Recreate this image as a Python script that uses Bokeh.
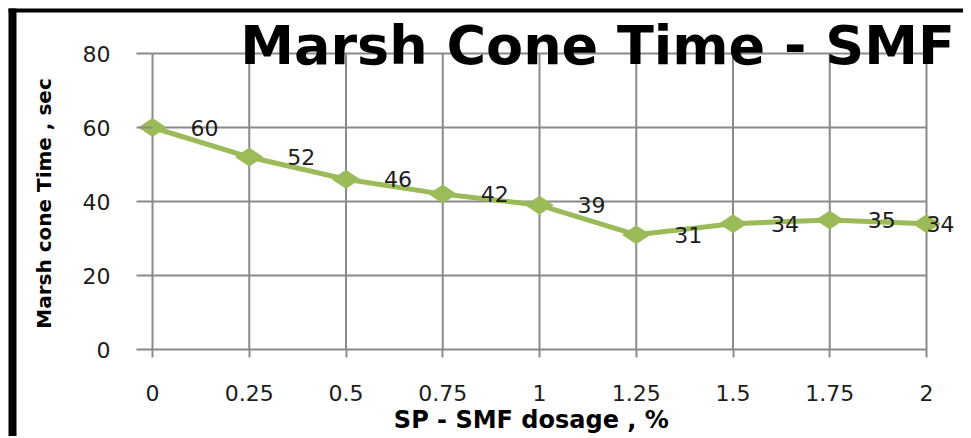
import numpy as np
from bokeh.plotting import figure
from bokeh.models import (ColumnDataSource, LabelSet, Label, FixedTicker, Range1d,
                          BoxAnnotation, Node)
from bokeh.core.properties import value
from bokeh.embed import file_html
from bokeh.resources import INLINE

# ---- data ----
dosage = [0, 0.25, 0.5, 0.75, 1, 1.25, 1.5, 1.75, 2]
marsh_time = [60, 52, 46, 42, 39, 31, 34, 35, 34]
x_tick_labels = ["0", "0.25", "0.5", "0.75", "1", "1.25", "1.5", "1.75", "2"]
y_ticks = [0, 20, 40, 60, 80]
title_text = "Marsh Cone Time - SMF"
x_label = "SP - SMF  dosage , %"
y_label = "Marsh cone Time , sec"

# ---- styles / layout ----
label_offsets = [38, 38, 38, 38, 38, 38, 38, 38, 0]
GREEN = "#9BBB59"
GRID = "#8a8a8a"
TXT = "#1c1c1c"
FONT = "DejaVu Sans"

W, H = 963, 436
PX0, PX1 = 152, 926   # screen x of first / last category
PY0, PY1 = 349, 53    # screen y of lowest / highest y tick

xmin, xmax = min(dosage), max(dosage)
ymin, ymax = min(y_ticks), max(y_ticks)
sx = (PX1 - PX0) / (xmax - xmin)
sy = (PY0 - PY1) / (ymax - ymin)


def dx(px):
    return xmin + (px - PX0) / sx


def dy(py):
    return ymin + (PY0 - py) / sy


p = figure(width=W, height=H, output_backend="svg", toolbar_location=None,
           x_range=Range1d(dx(0), dx(W)), y_range=Range1d(dy(H), dy(0)),
           min_border=0)
p.outline_line_color = None
p.background_fill_color = "white"
p.border_fill_color = "white"
p.xgrid.visible = False
p.ygrid.visible = False

n = len(dosage)
m = len(y_ticks)
# grid lines (from tick arrays)
p.segment(x0=dosage, y0=[ymin] * n, x1=dosage, y1=[ymax] * n,
          line_color=GRID, line_width=2)
p.segment(x0=[xmin] * m, y0=y_ticks, x1=[xmax] * m, y1=y_ticks,
          line_color=GRID, line_width=2)

src = ColumnDataSource(dict(x=dosage, y=marsh_time,
                            lab=[str(v) for v in marsh_time],
                            off=label_offsets))
p.line("x", "y", source=src, line_color=GREEN, line_width=5)
p.scatter("x", "y", source=src, marker="diamond", size=27, angle=np.pi / 2,
          fill_color=GREEN, line_color=GREEN)

labels = LabelSet(x="x", y="y", text="lab", x_offset="off", source=src,
                  text_font=value(FONT), text_font_size="22px", text_color=TXT,
                  text_align="left", text_baseline="middle")
p.add_layout(labels)

# y axis (fixed at first category)
yax = p.yaxis[0]
yax.fixed_location = xmin
yax.ticker = FixedTicker(ticks=y_ticks)
yax.axis_line_color = None
yax.major_tick_line_color = GRID
yax.major_tick_line_width = 2
yax.major_tick_out = 16
yax.major_tick_in = 0
yax.minor_tick_line_color = None
yax.major_label_standoff = 26
yax.major_label_text_font = FONT
yax.major_label_text_font_size = "22px"
yax.major_label_text_color = TXT

# x axis (fixed at y = 0)
xax = p.xaxis[0]
xax.fixed_location = ymin
xax.ticker = FixedTicker(ticks=dosage)
xax.major_label_overrides = {d: t for d, t in zip(dosage, x_tick_labels)}
xax.axis_line_color = None
xax.major_tick_line_color = GRID
xax.major_tick_line_width = 2
xax.major_tick_out = 8
xax.major_tick_in = 0
xax.minor_tick_line_color = None
xax.major_label_standoff = 27
xax.major_label_text_font = FONT
xax.major_label_text_font_size = "22px"
xax.major_label_text_color = TXT

# axis titles
p.add_layout(Label(x=dx(535), y=dy(419), text=x_label, text_font=FONT,
                   text_font_style="bold", text_font_size="24px",
                   text_color="black", text_align="center",
                   text_baseline="middle"))
p.add_layout(Label(x=dx(43), y=dy(203), text=y_label, text_font=FONT,
                   text_font_style="bold", text_font_size="20px",
                   text_color="black", text_align="center",
                   text_baseline="middle", angle=np.pi / 2))

# chart title overlapping plot area
p.add_layout(Label(x=dx(597), y=dy(45), text=title_text, text_font=FONT,
                   text_font_style="bold", text_font_size="54px",
                   text_color="black", text_align="center",
                   text_baseline="middle"))

# chart border (left thick, top thin)
left_bar = BoxAnnotation(left=Node(target="canvas", symbol="left", offset=8),
                         right=Node(target="canvas", symbol="left", offset=16),
                         top=Node(target="canvas", symbol="top", offset=8),
                         bottom=Node(target="canvas", symbol="bottom"),
                         fill_color="black", fill_alpha=1, line_color=None,
                         level="overlay")
top_bar = BoxAnnotation(left=Node(target="canvas", symbol="left", offset=8),
                        right=Node(target="canvas", symbol="right"),
                        top=Node(target="canvas", symbol="top", offset=8),
                        bottom=Node(target="canvas", symbol="top", offset=12),
                        fill_color="black", fill_alpha=1, line_color=None,
                        level="overlay")
p.add_layout(left_bar)
p.add_layout(top_bar)

open("out.html", "w").write(file_html(p, INLINE))
